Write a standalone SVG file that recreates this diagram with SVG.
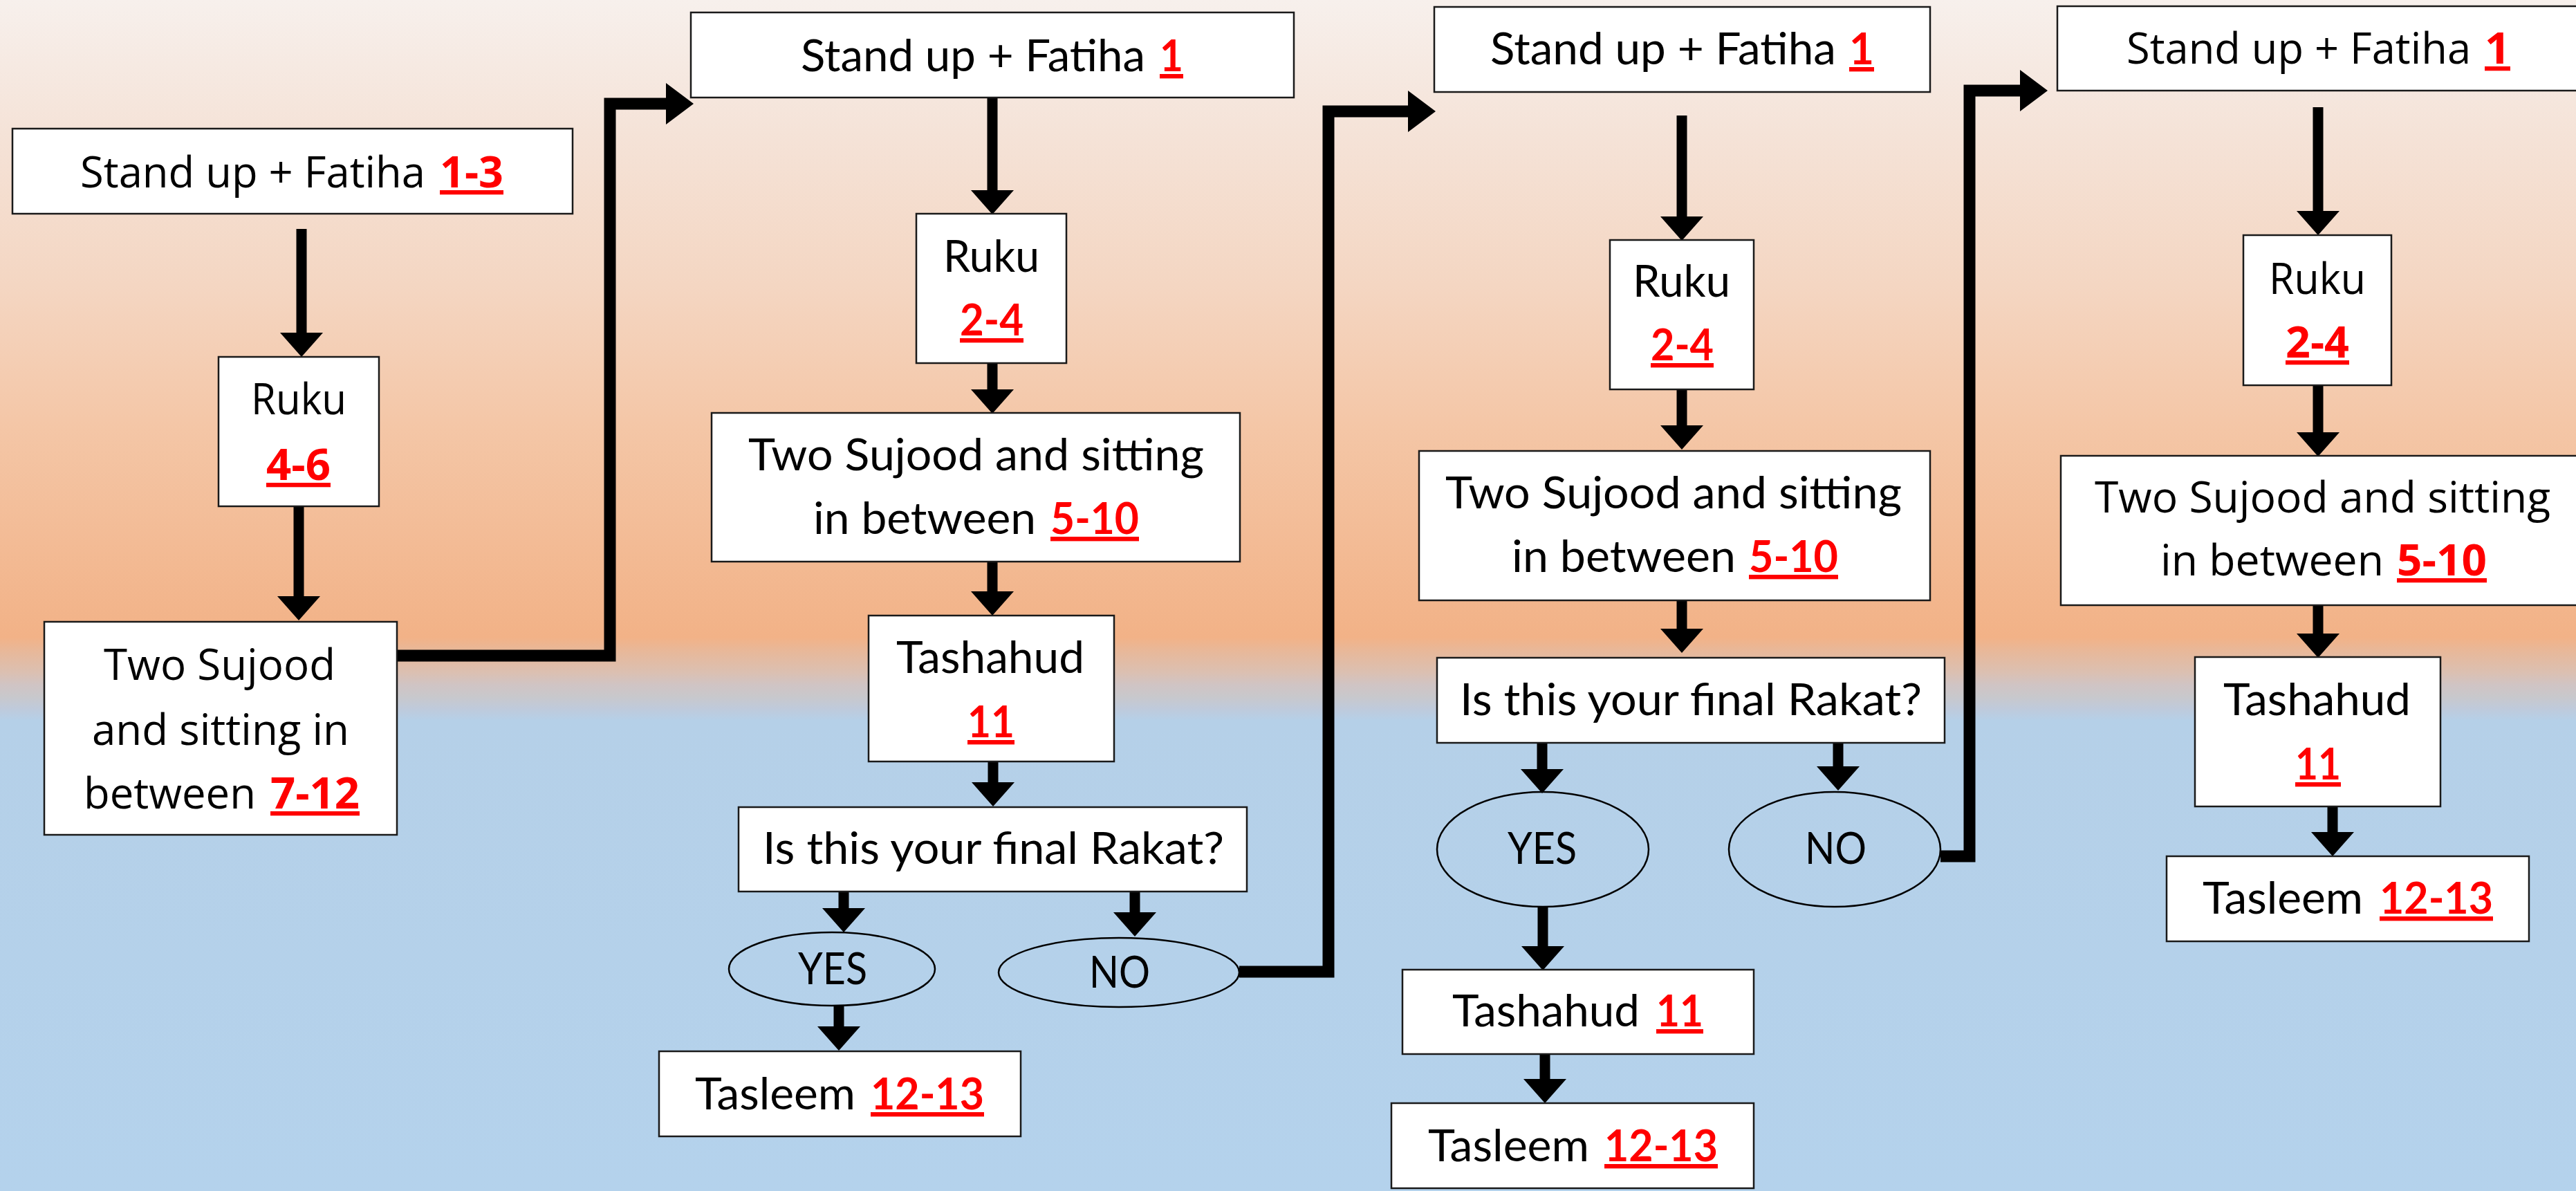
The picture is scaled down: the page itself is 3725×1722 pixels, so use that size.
<svg xmlns="http://www.w3.org/2000/svg" width="3725" height="1722" viewBox="0 0 3725 1722">
  <defs>
    <linearGradient id="sky" x1="0" y1="0" x2="0" y2="1722" gradientUnits="userSpaceOnUse">
      <stop offset="0" stop-color="#f7f0ec"/>
      <stop offset="0.11" stop-color="#f5e3d8"/>
      <stop offset="0.24" stop-color="#f4d6c2"/>
      <stop offset="0.36" stop-color="#f4c6a6"/>
      <stop offset="0.535" stop-color="#f2b287"/>
      <stop offset="0.545" stop-color="#e9b797"/>
      <stop offset="0.565" stop-color="#dbc0b2"/>
      <stop offset="0.575" stop-color="#d0c4c4"/>
      <stop offset="0.585" stop-color="#c8c8cc"/>
      <stop offset="0.595" stop-color="#bfcadb"/>
      <stop offset="0.605" stop-color="#b5d0e8"/>
      <stop offset="1" stop-color="#b4d2ec"/>
    </linearGradient>
    <marker id="head-down" markerUnits="userSpaceOnUse" markerWidth="36" markerHeight="62" refX="0" refY="31" orient="auto" overflow="visible">
      <path d="M0,0 L35,31 L0,62 Z" fill="#000"/>
    </marker>
    <marker id="head-right" markerUnits="userSpaceOnUse" markerWidth="40" markerHeight="60" refX="0" refY="30" orient="auto" overflow="visible">
      <path d="M0,0 L40,30 L0,60 Z" fill="#000"/>
    </marker>
  </defs>
  <style>
    .box { fill: #ffffff; stroke: #1a1a1a; stroke-width: 2.5; }
    .oval { fill: none; stroke: #000; stroke-width: 2.5; }
    .arrow { fill: none; stroke: #000; stroke-width: 15; marker-end: url(#head-down); }
    .link { fill: none; stroke: #000; stroke-width: 17; stroke-linejoin: miter; marker-end: url(#head-right); }
    text { fill: #000; }
    .wide { font-family: "Open Sans", "Noto Sans", sans-serif; font-size: 63px; }
    .narrow { font-family: Lato, "Liberation Sans", sans-serif; font-size: 64px; }
    .num { fill: #ff0000; font-weight: bold; text-decoration: underline; }
  </style>

  <rect x="0" y="0" width="3725" height="1722" fill="url(#sky)"/>

  <!-- connectors -->
  <g id="connectors">
    <!-- first rakat -->
    <path class="arrow" d="M436,331 V481"/>
    <path class="arrow" d="M432,732 V862"/>
    <path class="link" d="M574,948 H882 V150 H963"/>
    <!-- second rakat -->
    <path class="arrow" d="M1435,141 V275"/>
    <path class="arrow" d="M1435,525 V563"/>
    <path class="arrow" d="M1435,812 V855"/>
    <path class="arrow" d="M1436,1101 V1131"/>
    <path class="arrow" d="M1220,1289 V1313"/>
    <path class="arrow" d="M1641,1289 V1319"/>
    <path class="arrow" d="M1213,1455 V1484"/>
    <path class="link" d="M1792,1405 H1921 V161 H2036"/>
    <!-- third rakat -->
    <path class="arrow" d="M2432,167 V313"/>
    <path class="arrow" d="M2432,563 V615"/>
    <path class="arrow" d="M2432,868 V909"/>
    <path class="arrow" d="M2230,1074 V1112"/>
    <path class="arrow" d="M2658,1074 V1108"/>
    <path class="arrow" d="M2231,1310 V1368"/>
    <path class="arrow" d="M2234,1524 V1560"/>
    <path class="link" d="M2806,1238 H2848 V131 H2921"/>
    <!-- fourth rakat -->
    <path class="arrow" d="M3352,155 V305"/>
    <path class="arrow" d="M3352,557 V625"/>
    <path class="arrow" d="M3352,875 V916"/>
    <path class="arrow" d="M3373,1166 V1203"/>
  </g>

  <!-- first rakat -->
  <g id="r1-stand">
    <rect class="box" x="18" y="186" width="810" height="123"/>
    <text class="wide" y="271"><tspan x="116" textLength="499" lengthAdjust="spacingAndGlyphs">Stand up + Fatiha</tspan><tspan class="num" x="636" textLength="92" lengthAdjust="spacingAndGlyphs">1-3</tspan></text>
  </g>
  <g id="r1-ruku">
    <rect class="box" x="316" y="516" width="232" height="216"/>
    <text class="wide" x="363" y="599" textLength="138" lengthAdjust="spacingAndGlyphs">Ruku</text>
    <text class="wide num" x="385" y="694" textLength="93" lengthAdjust="spacingAndGlyphs">4-6</text>
  </g>
  <g id="r1-sujood">
    <rect class="box" x="64" y="899" width="510" height="308"/>
    <text class="wide" x="150" y="983" textLength="335" lengthAdjust="spacingAndGlyphs">Two Sujood</text>
    <text class="wide" x="133" y="1077" textLength="372" lengthAdjust="spacingAndGlyphs">and sitting in</text>
    <text class="wide" y="1169"><tspan x="121" textLength="249" lengthAdjust="spacingAndGlyphs">between</tspan><tspan class="num" x="391" textLength="129" lengthAdjust="spacingAndGlyphs">7-12</tspan></text>
  </g>

  <!-- second rakat -->
  <g id="r2-stand">
    <rect class="box" x="999" y="18" width="872" height="123"/>
    <text class="narrow" y="103"><tspan x="1158" textLength="498" lengthAdjust="spacingAndGlyphs">Stand up + Fatiha</tspan><tspan class="num" x="1677" textLength="34" lengthAdjust="spacingAndGlyphs">1</tspan></text>
  </g>
  <g id="r2-ruku">
    <rect class="box" x="1325" y="309" width="217" height="216"/>
    <text class="narrow" x="1364" y="393" textLength="139" lengthAdjust="spacingAndGlyphs">Ruku</text>
    <text class="narrow num" x="1388" y="485" textLength="92" lengthAdjust="spacingAndGlyphs">2-4</text>
  </g>
  <g id="r2-sujood">
    <rect class="box" x="1029" y="597" width="764" height="215"/>
    <text class="narrow" x="1082" y="680" textLength="659" lengthAdjust="spacingAndGlyphs">Two Sujood and sitting</text>
    <text class="narrow" y="772"><tspan x="1176" textLength="322" lengthAdjust="spacingAndGlyphs">in between</tspan><tspan class="num" x="1519" textLength="128" lengthAdjust="spacingAndGlyphs">5-10</tspan></text>
  </g>
  <g id="r2-tashahud">
    <rect class="box" x="1256" y="890" width="355" height="211"/>
    <text class="narrow" x="1296" y="973" textLength="272" lengthAdjust="spacingAndGlyphs">Tashahud</text>
    <text class="narrow num" x="1399" y="1066" textLength="68" lengthAdjust="spacingAndGlyphs">11</text>
  </g>
  <g id="r2-question">
    <rect class="box" x="1068" y="1167" width="735" height="122"/>
    <text class="narrow" x="1103" y="1249" textLength="667" lengthAdjust="spacingAndGlyphs">Is this your final Rakat?</text>
  </g>
  <g id="r2-yes">
    <ellipse class="oval" cx="1203" cy="1401" rx="149" ry="53"/>
    <text class="narrow" x="1154" y="1423" textLength="100" lengthAdjust="spacingAndGlyphs">YES</text>
  </g>
  <g id="r2-no">
    <ellipse class="oval" cx="1618" cy="1406" rx="174" ry="50"/>
    <text class="narrow" x="1575" y="1428" textLength="88" lengthAdjust="spacingAndGlyphs">NO</text>
  </g>
  <g id="r2-tasleem">
    <rect class="box" x="953" y="1520" width="523" height="123"/>
    <text class="narrow" y="1604"><tspan x="1005" textLength="232" lengthAdjust="spacingAndGlyphs">Tasleem</tspan><tspan class="num" x="1259" textLength="164" lengthAdjust="spacingAndGlyphs">12-13</tspan></text>
  </g>

  <!-- third rakat -->
  <g id="r3-stand">
    <rect class="box" x="2074" y="10" width="717" height="123"/>
    <text class="narrow" y="93"><tspan x="2155" textLength="500" lengthAdjust="spacingAndGlyphs">Stand up + Fatiha</tspan><tspan class="num" x="2674" textLength="36" lengthAdjust="spacingAndGlyphs">1</tspan></text>
  </g>
  <g id="r3-ruku">
    <rect class="box" x="2328" y="347" width="208" height="216"/>
    <text class="narrow" x="2361" y="429" textLength="141" lengthAdjust="spacingAndGlyphs">Ruku</text>
    <text class="narrow num" x="2387" y="521" textLength="91" lengthAdjust="spacingAndGlyphs">2-4</text>
  </g>
  <g id="r3-sujood">
    <rect class="box" x="2052" y="652" width="739" height="216"/>
    <text class="narrow" x="2090" y="735" textLength="660" lengthAdjust="spacingAndGlyphs">Two Sujood and sitting</text>
    <text class="narrow" y="827"><tspan x="2186" textLength="324" lengthAdjust="spacingAndGlyphs">in between</tspan><tspan class="num" x="2529" textLength="129" lengthAdjust="spacingAndGlyphs">5-10</tspan></text>
  </g>
  <g id="r3-question">
    <rect class="box" x="2078" y="951" width="734" height="123"/>
    <text class="narrow" x="2111" y="1034" textLength="668" lengthAdjust="spacingAndGlyphs">Is this your final Rakat?</text>
  </g>
  <g id="r3-yes">
    <ellipse class="oval" cx="2231" cy="1228" rx="153" ry="83"/>
    <text class="narrow" x="2180" y="1249" textLength="100" lengthAdjust="spacingAndGlyphs">YES</text>
  </g>
  <g id="r3-no">
    <ellipse class="oval" cx="2653" cy="1228" rx="153" ry="83"/>
    <text class="narrow" x="2610" y="1249" textLength="89" lengthAdjust="spacingAndGlyphs">NO</text>
  </g>
  <g id="r3-tashahud">
    <rect class="box" x="2028" y="1402" width="508" height="122"/>
    <text class="narrow" y="1484"><tspan x="2100" textLength="271" lengthAdjust="spacingAndGlyphs">Tashahud</tspan><tspan class="num" x="2395" textLength="68" lengthAdjust="spacingAndGlyphs">11</tspan></text>
  </g>
  <g id="r3-tasleem">
    <rect class="box" x="2012" y="1595" width="524" height="123"/>
    <text class="narrow" y="1679"><tspan x="2065" textLength="233" lengthAdjust="spacingAndGlyphs">Tasleem</tspan><tspan class="num" x="2320" textLength="164" lengthAdjust="spacingAndGlyphs">12-13</tspan></text>
  </g>

  <!-- fourth rakat -->
  <g id="r4-stand">
    <rect class="box" x="2975" y="9" width="760" height="122"/>
    <text class="wide" y="92"><tspan x="3075" textLength="498" lengthAdjust="spacingAndGlyphs">Stand up + Fatiha</tspan><tspan class="num" x="3593" textLength="37" lengthAdjust="spacingAndGlyphs">1</tspan></text>
  </g>
  <g id="r4-ruku">
    <rect class="box" x="3244" y="340" width="214" height="217"/>
    <text class="wide" x="3281" y="425" textLength="140" lengthAdjust="spacingAndGlyphs">Ruku</text>
    <text class="wide num" x="3305" y="517" textLength="92" lengthAdjust="spacingAndGlyphs">2-4</text>
  </g>
  <g id="r4-sujood">
    <rect class="box" x="2980" y="659" width="760" height="216"/>
    <text class="wide" x="3029" y="741" textLength="659" lengthAdjust="spacingAndGlyphs">Two Sujood and sitting</text>
    <text class="wide" y="832"><tspan x="3124" textLength="323" lengthAdjust="spacingAndGlyphs">in between</tspan><tspan class="num" x="3466" textLength="130" lengthAdjust="spacingAndGlyphs">5-10</tspan></text>
  </g>
  <g id="r4-tashahud">
    <rect class="box" x="3174" y="950" width="355" height="216"/>
    <text class="narrow" x="3215" y="1034" textLength="271" lengthAdjust="spacingAndGlyphs">Tashahud</text>
    <text class="narrow num" x="3319" y="1127" textLength="66" lengthAdjust="spacingAndGlyphs">11</text>
  </g>
  <g id="r4-tasleem">
    <rect class="box" x="3133" y="1238" width="524" height="123"/>
    <text class="narrow" y="1321"><tspan x="3185" textLength="232" lengthAdjust="spacingAndGlyphs">Tasleem</tspan><tspan class="num" x="3441" textLength="164" lengthAdjust="spacingAndGlyphs">12-13</tspan></text>
  </g>
</svg>
